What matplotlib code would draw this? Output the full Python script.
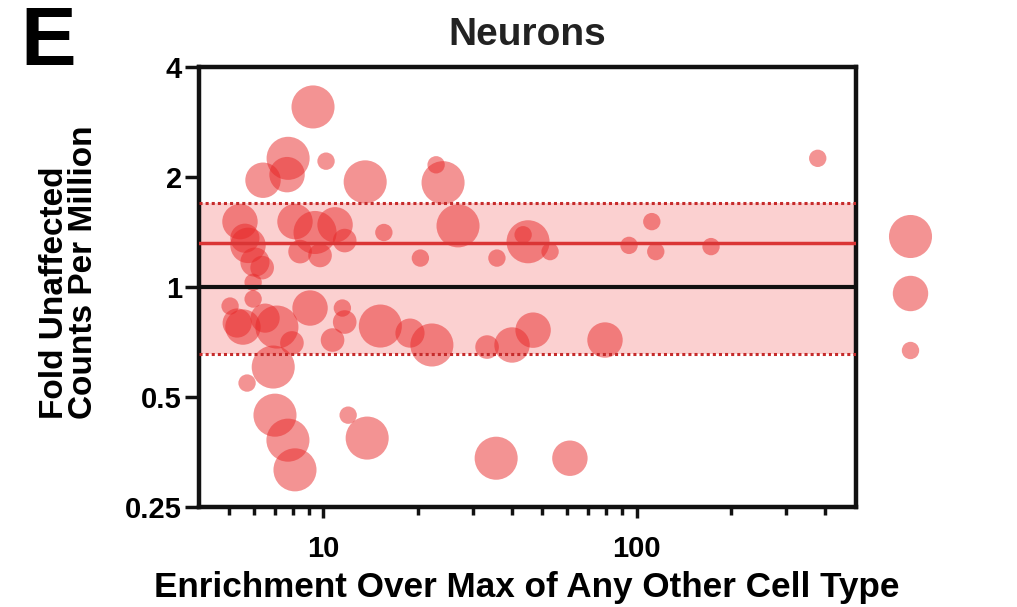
import numpy as np
import matplotlib
matplotlib.use("Agg")
import matplotlib.pyplot as plt
from matplotlib.lines import Line2D
from matplotlib.ticker import FixedLocator, NullFormatter

plt.rcParams['font.family'] = ['Liberation Sans', 'DejaVu Sans']
plt.rcParams['font.weight'] = 'bold'

# enrichment over max of any other cell type (x), fold unaffected CPM (y)
enrichment = [9.27, 7.72, 10.2, 6.42, 7.66, 13.6, 24.1, 22.9, 378,
              5.42, 5.75, 6.05, 5.62, 6.38, 8.12, 9.41, 10.9, 8.43, 11.7, 9.76,
              15.6, 26.9, 20.4, 35.8, 45.0, 43.4, 52.9, 94.5, 111.7, 115, 172.6,
              5.04, 5.97, 5.97, 5.31, 7.11, 9.07, 7.94, 11.5, 10.7, 15.2, 5.54,
              18.9, 22.2, 33.3, 40.0, 46.7, 79.2, 6.52, 11.7,
              6.92, 5.71, 7.01, 7.71, 8.12, 12.0, 13.8, 35.6, 61.2]
fold = [3.11, 2.25, 2.21, 1.96, 2.03, 1.94, 1.93, 2.16, 2.25,
        1.51, 1.30, 1.17, 1.36, 1.13, 1.51, 1.41, 1.48, 1.25, 1.34, 1.22,
        1.41, 1.47, 1.20, 1.20, 1.33, 1.39, 1.25, 1.30, 1.51, 1.25, 1.29,
        0.887, 0.927, 1.03, 0.797, 0.777, 0.876, 0.703, 0.876, 0.716, 0.782, 0.777,
        0.748, 0.694, 0.685, 0.694, 0.762, 0.716, 0.822, 0.802,
        0.604, 0.546, 0.446, 0.381, 0.316, 0.446, 0.386, 0.340, 0.340]
# bubble size class (1 = smallest, 5 = largest)
size_class = [5, 5, 1, 4, 4, 5, 5, 1, 1,
              4, 4, 3, 3, 2, 4, 5, 4, 2, 2, 2,
              1, 5, 1, 1, 5, 1, 1, 1, 1, 1, 1,
              1, 1, 1, 3, 5, 4, 2, 1, 2, 5, 4,
              3, 5, 2, 4, 4, 4, 3, 2,
              5, 1, 5, 5, 5, 1, 5, 5, 4]

mean_fold = 1.32
band_low, band_high = 0.656, 1.70
key_classes = [5, 4, 1]

# marker diameter in points for each size class
diam = {1: 12.5, 2: 17, 3: 21, 4: 25.5, 5: 31}
pt_color = '#E82828'

fig = plt.figure(figsize=(10.17, 6.07), dpi=100)
ax = fig.add_axes([0.1953, 0.1647, 0.6462, 0.7249])

ax.set_xscale('log')
ax.set_yscale('log', base=2)
ax.set_xlim(4, 500)
ax.set_ylim(0.25, 4)

ax.axhspan(band_low, band_high, color='#FBD0D0', lw=0, zorder=1)
sizes = [diam[c] ** 2 for c in size_class]
ax.scatter(enrichment, fold, s=sizes, color=pt_color, alpha=0.5,
           edgecolors='none', zorder=2)
ax.axhline(band_high, color='#C62B2B', lw=2.2, ls=(0, (1, 1)), zorder=3)
ax.axhline(band_low, color='#C62B2B', lw=2.2, ls=(0, (1, 1)), zorder=3)
ax.axhline(mean_fold, color='#DA3535', lw=2.5, zorder=3)
ax.axhline(1, color='#111111', lw=3, zorder=3)

ax.set_yticks([0.25, 0.5, 1, 2, 4])
ax.set_yticklabels(['0.25', '0.5', '1', '2', '4'])
ax.yaxis.set_minor_locator(FixedLocator([]))
ax.set_xticks([10, 100])
ax.set_xticklabels(['10', '100'])
minor = [v * d for d in (1, 10, 100) for v in range(2, 10) if 4 < v * d < 500]
ax.xaxis.set_minor_locator(FixedLocator(minor))
ax.xaxis.set_minor_formatter(NullFormatter())

for sp in ax.spines.values():
    sp.set_linewidth(3.2)
    sp.set_color('#111111')
ax.tick_params(which='major', direction='out', length=8, width=2.5,
               labelsize=21, color='#111111')
ax.tick_params(which='minor', direction='out', length=6, width=2.5,
               color='#111111')
ax.tick_params(axis='x', pad=12)
ax.tick_params(axis='y', length=10, pad=2)

ax.set_title('Neurons', fontsize=28, fontweight='bold', pad=16,
             color='#222222')
ax.set_xlabel('Enrichment Over Max of Any Other Cell Type', fontsize=25.3,
              fontweight='bold', labelpad=6)
ax.set_ylabel('Fold Unaffected\nCounts Per Million', fontsize=24,
              fontweight='bold', linespacing=0.9, multialignment='left')
ax.yaxis.set_label_coords(-0.152, 0.533)
fig.text(0.047, 0.929, 'E', fontsize=60, fontweight='bold', ha='center',
         va='center')

# size key beside the panel
handles = [Line2D([], [], ls='none', marker='o', markersize=diam[c],
                  color=pt_color, alpha=0.5, markeredgewidth=0)
           for c in key_classes]
ax.legend(handles, ['', '', ''], loc='center', bbox_to_anchor=(1.083, 0.48),
          frameon=False, fontsize=10, handlelength=2, handleheight=2,
          labelspacing=2.57, handletextpad=0, borderpad=0)

fig.savefig('out.png', dpi=100)
